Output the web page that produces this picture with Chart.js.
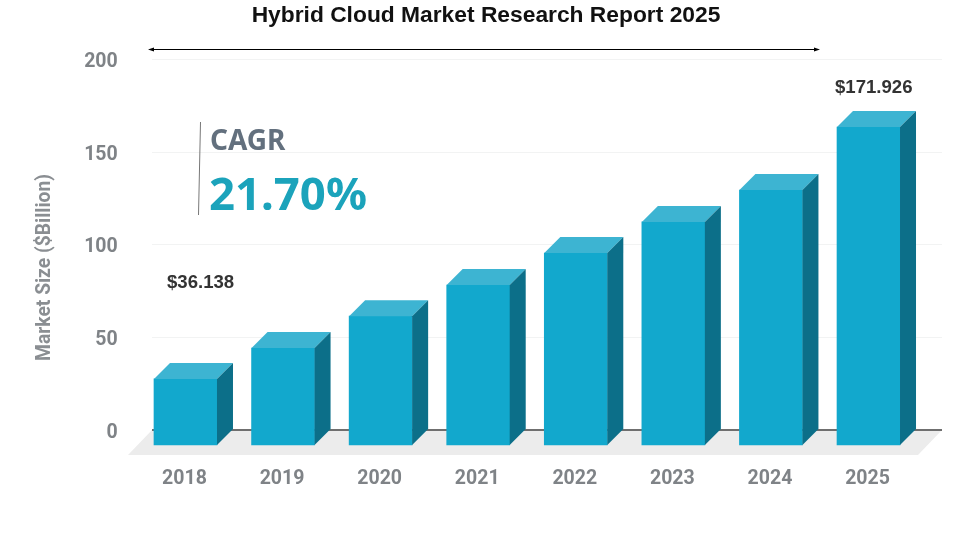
<!DOCTYPE html>
<html>
<head>
<meta charset="utf-8">
<style>html,body{margin:0;padding:0;background:#fff}canvas{display:block}</style>
<script src="https://cdn.jsdelivr.net/npm/chart.js@4"></script>
</head>
<body>
<canvas id="c" width="960" height="540" style="width:960px;height:540px"></canvas>
<script>
const categories = ["2018","2019","2020","2021","2022","2023","2024","2025"];
const marketSize = [36.138, 52.8, 70, 86.8, 104, 120.8, 138, 171.926];
const yTicks = [0, 50, 100, 150, 200];
const chartTitle = "Hybrid Cloud Market Research Report 2025";
const yAxisTitle = "Market Size ($Billion)";
const firstLabel = "$36.138";
const lastLabel = "$171.926";
const cagrLabel = "CAGR";
const cagrValue = "21.70%";

const DEPTH = 16, FLOOR_DROP = 15;
const PX_PER_UNIT = 92.75 / 50;
const frontData = marketSize.map(v => [-FLOOR_DROP / PX_PER_UNIT, v - DEPTH / PX_PER_UNIT]);

function poly(ctx, pts, fill) {
  ctx.beginPath();
  pts.forEach((p, i) => i ? ctx.lineTo(p[0], p[1]) : ctx.moveTo(p[0], p[1]));
  ctx.closePath();
  ctx.fillStyle = fill;
  ctx.fill();
}

const scene = {
  id: "scene",
  beforeDatasetsDraw(chart) {
    const ctx = chart.ctx, y = chart.scales.y;
    ctx.save();
    ctx.strokeStyle = "#f2f3f3";
    ctx.lineWidth = 1;
    yTicks.filter(v => v > 0).forEach(v => {
      const py = Math.round(y.getPixelForValue(v)) + 0.5;
      ctx.beginPath(); ctx.moveTo(152, py); ctx.lineTo(942, py); ctx.stroke();
    });
    const y0 = y.getPixelForValue(0);
    poly(ctx, [[152, y0], [942, y0], [918, y0 + 25], [128, y0 + 25]], "#ececec");
    ctx.strokeStyle = "#6f6f6f";
    ctx.lineWidth = 2;
    ctx.beginPath(); ctx.moveTo(152, y0); ctx.lineTo(942, y0); ctx.stroke();
    ctx.restore();
  },
  afterDatasetsDraw(chart) {
    const ctx = chart.ctx;
    ctx.save();
    chart.getDatasetMeta(0).data.forEach(el => {
      const l = el.x - el.width / 2, r = el.x + el.width / 2, t = el.y, b = el.base;
      poly(ctx, [[l, t], [l + DEPTH, t - DEPTH], [r + DEPTH, t - DEPTH], [r, t]], "#3db4d2");
      poly(ctx, [[r, t], [r + DEPTH, t - DEPTH], [r + DEPTH, b - DEPTH], [r, b]], "#0c6f89");
    });
    ctx.restore();
  },
  afterDraw(chart) {
    const ctx = chart.ctx;
    ctx.save();
    ctx.textBaseline = "alphabetic";
    // title
    ctx.textAlign = "center";
    ctx.fillStyle = "#111";
    ctx.font = "bold 22.8px 'Liberation Sans'";
    ctx.fillText(chartTitle, 486, 22);
    // double-headed arrow
    ctx.strokeStyle = "#000"; ctx.lineWidth = 1;
    ctx.beginPath(); ctx.moveTo(150, 49.5); ctx.lineTo(818, 49.5); ctx.stroke();
    poly(ctx, [[148, 49.5], [154, 47.5], [154, 51.5]], "#000");
    poly(ctx, [[820, 49.5], [814, 47.5], [814, 51.5]], "#000");
    // CAGR divider
    ctx.strokeStyle = "#777";
    ctx.beginPath(); ctx.moveTo(200.5, 122); ctx.lineTo(198.5, 215); ctx.stroke();
    // y axis title
    ctx.save();
    ctx.translate(50, 267.5);
    ctx.rotate(-Math.PI / 2);
    ctx.fillStyle = "#8a8e92";
    ctx.font = "bold 19.3px Roboto";
    ctx.fillText(yAxisTitle, 0, 0);
    ctx.restore();
    // annotations
    ctx.textAlign = "left";
    ctx.fillStyle = "#333";
    ctx.font = "bold 18.6px 'Liberation Sans'";
    ctx.fillText(firstLabel, 167, 288);
    ctx.fillText(lastLabel, 835, 93);
    ctx.fillStyle = "#63707e";
    ctx.font = "bold 28px 'Noto Sans'";
    ctx.fillText(cagrLabel, 210, 150);
    ctx.fillStyle = "#1ba3bb";
    ctx.font = "bold 45.5px 'Noto Sans'";
    ctx.fillText(cagrValue, 209, 209.5);
    ctx.restore();
  }
};

new Chart(document.getElementById("c"), {
  type: "bar",
  data: {
    labels: categories,
    datasets: [{ data: frontData, backgroundColor: "#12a8cd", borderWidth: 0, barThickness: 63 }]
  },
  options: {
    responsive: false,
    animation: false,
    devicePixelRatio: 1,
    layout: { padding: { left: 0, right: 42.7, top: 59, bottom: 0 } },
    plugins: {
      legend: { display: false },
      tooltip: { enabled: false },
      title: { display: false }
    },
    scales: {
      x: {
        grid: { display: false },
        border: { display: false },
        offset: true,
        ticks: {
          color: "#7f8387",
          font: { family: "Roboto", size: 19.5, weight: "bold" },
          padding: 2, maxRotation: 0, labelOffset: -1
        },
        afterFit(s) { s.height = 540 - 457.8; }
      },
      y: {
        min: -15, max: 200,
        grid: { display: false },
        border: { display: false },
        afterBuildTicks(s) { s.ticks = yTicks.map(v => ({ value: v })); },
        afterFit(s) { s.width = 136.7; },
        ticks: {
          color: "#7f8387",
          font: { family: "Roboto", size: 19.5, weight: "bold" },
          padding: 11, labelOffset: 3
        }
      }
    }
  },
  plugins: [scene]
});
</script>
</body>
</html>
